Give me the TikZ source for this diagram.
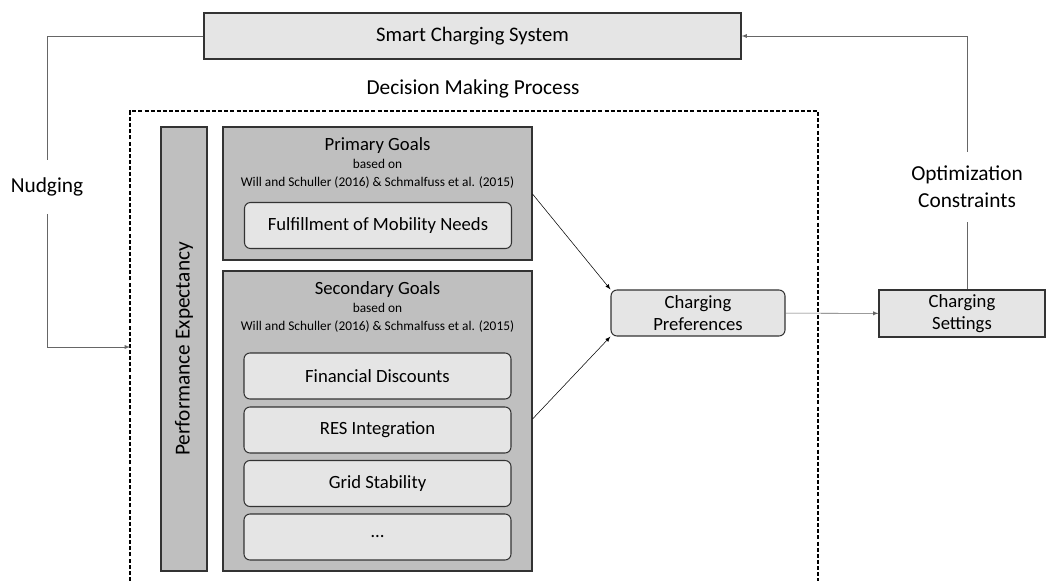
\documentclass[tikz,border=0pt]{standalone}
\usepackage{fontspec}
\setmainfont{Carlito}
\usetikzlibrary{positioning}

\begin{document}
\begin{tikzpicture}[x=0.75pt,y=-0.75pt,>=latex]
  \def\u{0.75pt}

\tikzstyle{box}=[draw=black!80,thick,fill=black!10,inner sep=0pt,font=\fontsize{14}{16.5}\selectfont,align=center]
\tikzstyle{goal}=[draw=black!80,thick,fill=black!25,inner sep=0pt]
\tikzstyle{item}=[box,rounded corners=6*\u,minimum width=267*\u,minimum height=46*\u]
\tikzstyle{big}=[font=\fontsize{16}{20}\selectfont,align=center]
\tikzstyle{link}=[draw=black!60,thin]

\useasboundingbox (0,0) rectangle (1047,581);

\node[box,minimum width=537*\u,minimum height=46*\u,font=\fontsize{15.5}{18}\selectfont] (scs) at (472.5,36) {Smart Charging System};
\node[big] (dmp) at (473,89) {Decision Making Process};
\draw[thick,dash pattern=on 3pt off 1.6pt] (130,581) -- (130,111) -- (818,111) -- (818,581);
\coordinate (dmpin) at (130,347);

\node[goal,minimum width=46*\u,minimum height=444*\u] (perf) at (184,349) {};
\node[big,rotate=90] at (perf) {Performance Expectancy};

\node[goal,minimum width=309*\u,minimum height=133*\u] (prim) at (377.5,193.5) {};
\node[below=6*\u of prim.north,align=center,font=\fontsize{14}{13}\selectfont] (primt) {Primary Goals\\[1pt]
  {\fontsize{10}{12}\selectfont based on}\\{\fontsize{10}{12}\selectfont Will and Schuller (2016) \& Schmalfuss et al. (2015)}};
\node[item] (fulfil) at (378,225.5) {Fulfillment of Mobility Needs};

\node[goal,minimum width=309*\u,minimum height=300*\u] (sec) at (377.5,421) {};
\node[below=6*\u of sec.north,align=center,font=\fontsize{14}{13}\selectfont] (sect) {Secondary Goals\\[1pt]
  {\fontsize{10}{12}\selectfont based on}\\{\fontsize{10}{12}\selectfont Will and Schuller (2016) \& Schmalfuss et al. (2015)}};
\node[item] (fin) at (377.5,376) {Financial Discounts};
\node[item] (res) at (377.5,430) {RES Integration};
\node[item] (grid) at (377.5,483.5) {Grid Stability};
\node[item] (more) at (377.5,537) {\dots};

\node[box,rounded corners=6*\u,minimum width=174*\u,minimum height=46*\u] (pref) at (698,313) {Charging\\Preferences};
\node[box,minimum width=166*\u,minimum height=47*\u] (sett) at (962,313.5) {Charging\\Settings};

\node[big,minimum height=53*\u] (nudge) at (47,187) {Nudging};
\node[big,minimum height=70*\u] (opt) at (967,187) {Optimization\\Constraints};

\draw[link] (scs.west) -| (nudge.north);
\draw[link,->] (nudge.south) |- (dmpin);
\draw[link] (opt.south) -- (opt.south |- sett.north);
\draw[link,->] (opt.north) |- (scs.east);
\draw[->] (prim.east |- 0,194) -- (pref.north west);
\draw[->] (sec.east |- 0,419) -- (pref.south west);
\draw[link,->] (pref) -- (sett);
\end{tikzpicture}
\end{document}
